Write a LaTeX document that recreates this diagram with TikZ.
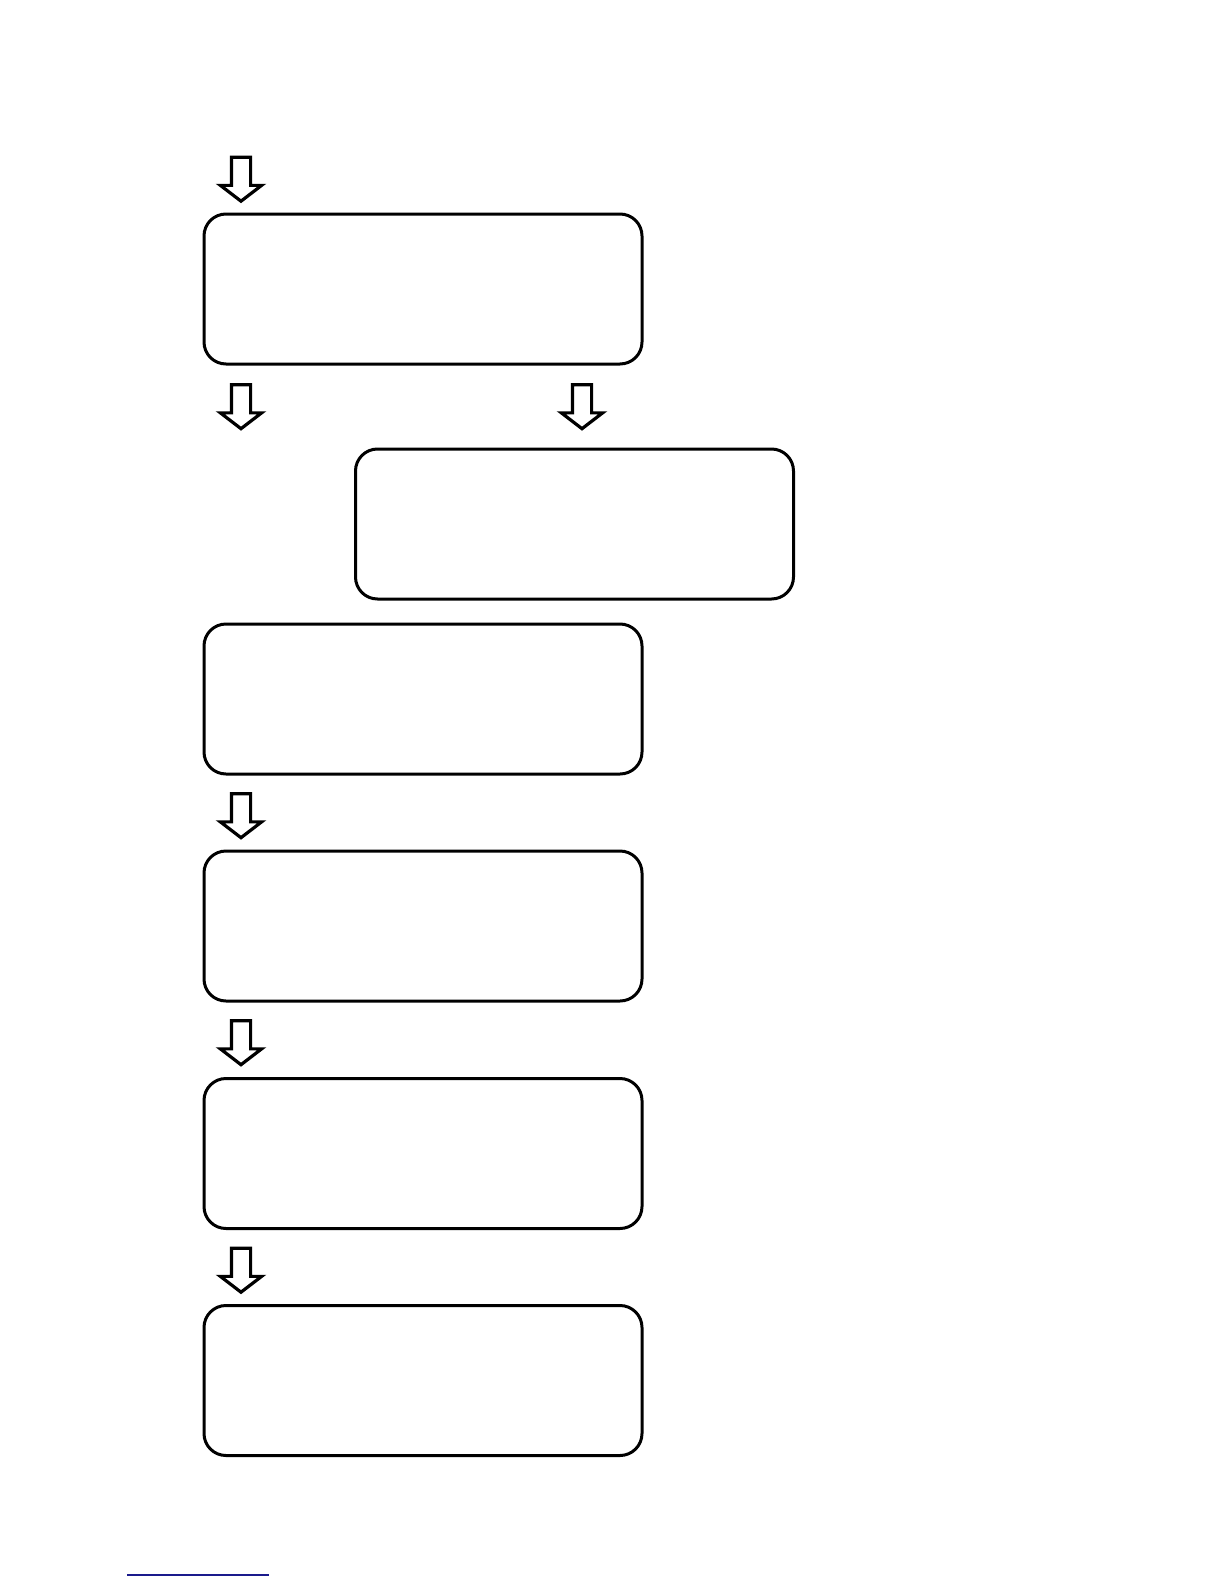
\documentclass[tikz,border=0pt]{standalone}
\usepackage{xcolor}
\usepackage{tikz}
\usetikzlibrary{shapes.arrows, positioning}
\definecolor{ruleNavy}{HTML}{1A1A8C}
\tikzset{
    flow_box/.style={
        rectangle, rounded corners=22bp, draw=black, line width=3bp, fill=white,
        minimum width=438bp, minimum height=150bp, inner sep=0pt
    },
    down_arrow/.style={
        single arrow, draw=black, line width=3.2bp, fill=white,
        inner xsep=0pt, inner ysep=8bp,
        minimum width=38bp, minimum height=44bp,
        single arrow head extend=11bp, single arrow tip angle=105,
        single arrow head indent=0bp, rotate=-90
    },
    foot_rule/.style={
        draw=ruleNavy, line width=1.2bp
    }
}
\begin{document}
\begin{tikzpicture}[x=1bp, y=-1bp]

    \useasboundingbox (0,0) rectangle (1224,1584);

    % Entry arrow
    \node[down_arrow] (in_arrow) at (241,175.5) {};

    % Tier 1: first box
    \node[flow_box] (box_one) at (423,289) {};

    % Split: left and right arrows
    \node[down_arrow] (left_arrow) at (241,403) {};
    \node[down_arrow] (right_arrow) at (582,403) {};

    % Tier 2: right branch box
    \node[flow_box] (box_side) at (574.5,524) {};

    % Tier 3..6: left column
    \node[flow_box] (box_three) at (423,699) {};
    \node[down_arrow] (arrow_three) at (241,812) {};
    \node[flow_box] (box_four) at (423,926) {};
    \node[down_arrow] (arrow_four) at (241,1039) {};
    \node[flow_box] (box_five) at (423,1153.5) {};
    \node[down_arrow] (arrow_five) at (241,1266.5) {};
    \node[flow_box] (box_six) at (423,1380.5) {};

    % Footnote rule
    \coordinate (rule_start) at (127,1575);
    \coordinate (rule_end) at (269,1575);
    \draw[foot_rule] (rule_start) -- (rule_end);

\end{tikzpicture}
\end{document}
